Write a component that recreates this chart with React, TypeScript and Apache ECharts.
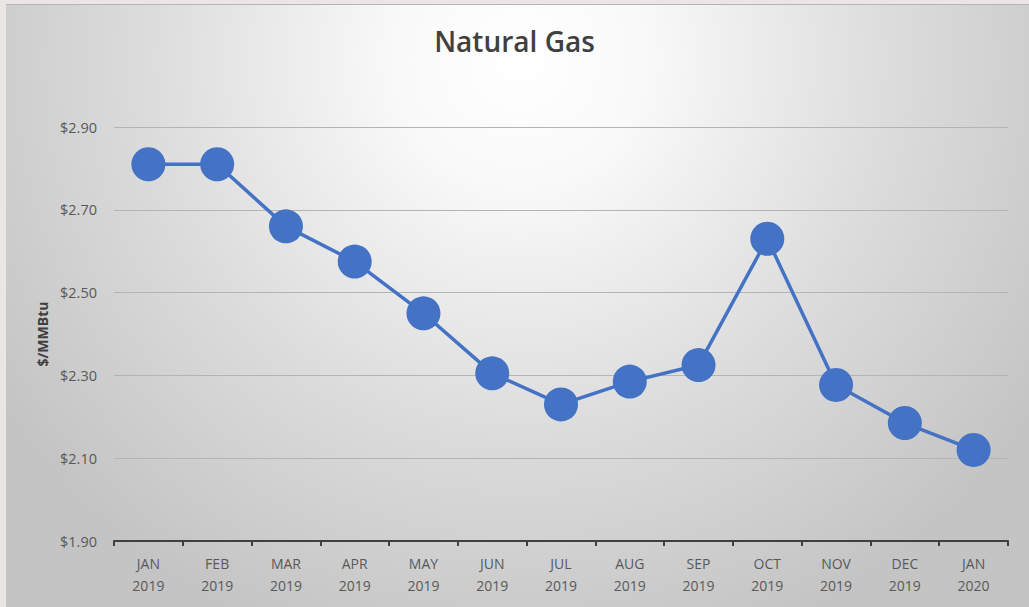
import React, { useEffect, useRef } from "react";
import * as echarts from "echarts";

const months = ["JAN", "FEB", "MAR", "APR", "MAY", "JUN", "JUL", "AUG", "SEP", "OCT", "NOV", "DEC", "JAN"];
const years = ["2019", "2019", "2019", "2019", "2019", "2019", "2019", "2019", "2019", "2019", "2019", "2019", "2020"];
const prices = [2.81, 2.81, 2.66, 2.575, 2.45, 2.305, 2.23, 2.285, 2.325, 2.63, 2.277, 2.185, 2.12];
const yTicks = { min: 1.9, max: 2.9, interval: 0.2 };

export default function App() {
  const ref = useRef<HTMLDivElement>(null);
  useEffect(() => {
    if (!ref.current) return;
    const chart = echarts.init(ref.current, undefined, { renderer: "svg" });
    const categories = months.map((m, i) => `${m}\n${years[i]}`);
    chart.setOption({
      animation: false,
      graphic: [
        { type: "rect", z: -10, silent: true, shape: { x: 0, y: 0, width: 1029, height: 607 }, style: { fill: "#ebe6e6" } },
        {
          type: "rect",
          z: -9,
          silent: true,
          shape: { x: 6, y: 4, width: 1023, height: 603 },
          style: {
            fill: new echarts.graphic.RadialGradient(520, 60, 620, [
              { offset: 0, color: "#ffffff" },
              { offset: 0.2, color: "#f9f9f9" },
              { offset: 0.6, color: "#dcdcdc" },
              { offset: 1, color: "#c4c4c4" },
            ], true),
          },
        },
        { type: "line", z: -8, silent: true, shape: { x1: 6, y1: 4.5, x2: 1029, y2: 4.5 }, style: { stroke: "#b5b5b5", lineWidth: 1 } },
      ],
      title: {
        text: "Natural Gas",
        left: "center",
        top: 22,
        textStyle: { fontFamily: "Open Sans", fontSize: 28, fontWeight: 600, color: "#404040" },
      },
      grid: { left: 114, right: 21, top: 127, bottom: 66 },
      xAxis: {
        type: "category",
        data: categories,
        boundaryGap: true,
        axisLine: { show: true, lineStyle: { color: "#404040", width: 2 } },
        axisTick: { show: true, length: 5, lineStyle: { color: "#404040", width: 2 } },
        axisLabel: {
          color: "#595959",
          fontFamily: "Open Sans",
          fontSize: 14,
          lineHeight: 22,
          margin: 11,
          interval: 0,
        },
        splitLine: { show: false },
      },
      yAxis: {
        type: "value",
        min: yTicks.min,
        max: yTicks.max,
        interval: yTicks.interval,
        name: "$/MMBtu",
        nameLocation: "middle",
        nameGap: 64,
        nameTextStyle: { fontFamily: "Open Sans", fontSize: 14, fontWeight: 700, color: "#404040" },
        axisLine: { show: false },
        axisTick: { show: false },
        axisLabel: {
          color: "#595959",
          fontFamily: "Open Sans",
          fontSize: 14.5,
          margin: 17,
          formatter: (v: number) => "$" + v.toFixed(2),
        },
        splitLine: { show: true, lineStyle: { color: "#b4b4b4", width: 1 } },
      },
      series: [
        {
          type: "line",
          data: prices,
          symbol: "circle",
          symbolSize: 34,
          itemStyle: { color: "#4472C4" },
          lineStyle: { color: "#4472C4", width: 3.5 },
        },
      ],
    });
    return () => chart.dispose();
  }, []);
  return <div ref={ref} style={{ position: "absolute", left: 0, top: 0, width: 1029, height: 607 }} />;
}
